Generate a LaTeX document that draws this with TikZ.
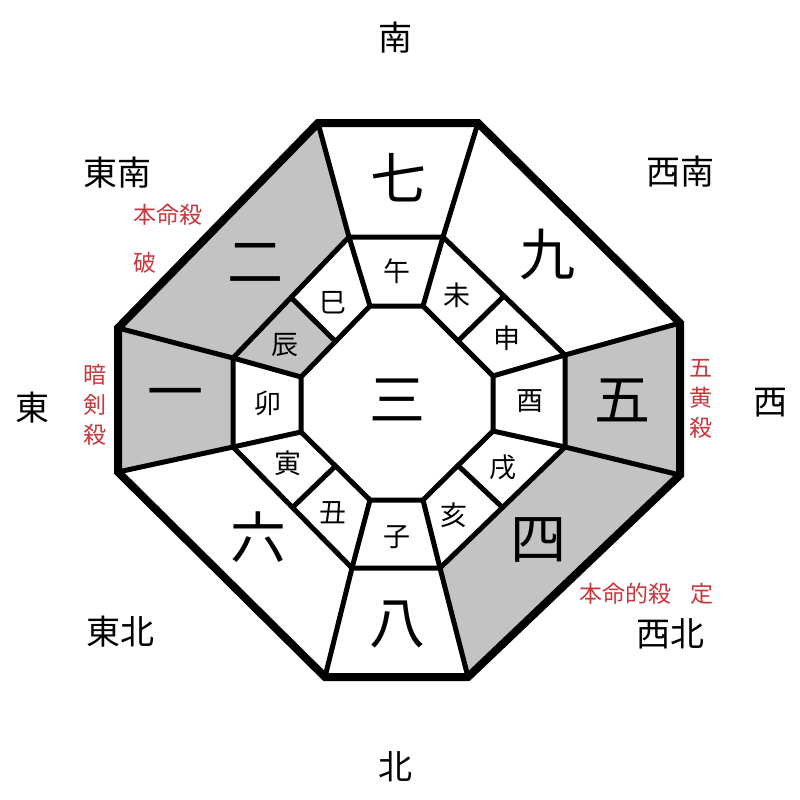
\documentclass[tikz,border=0pt]{standalone}
\usepackage{fontspec}
\setmainfont{Noto Sans CJK JP}
\usetikzlibrary{calc}
\definecolor{cellgray}{RGB}{195,195,195}
\definecolor{notered}{RGB}{200,55,60}
\tikzset{
  bignum/.style={font=\fontsize{56}{60}\selectfont, inner sep=0pt},
  branch/.style={font=\fontsize{27}{30}\selectfont, inner sep=0pt},
  dirlabel/.style={font=\fontsize{34}{36}\selectfont, inner sep=0pt},
  notelabel/.style={font=\fontsize{23}{30}\selectfont, text=notered, inner sep=0pt, align=center},
  outerline/.style={line width=8pt},
  innerline/.style={line width=5pt},
  shade/.style={fill=cellgray, draw=none}
}
\begin{document}
\begin{tikzpicture}[x=1pt,y=-1pt]
\useasboundingbox[fill=white] (0,0) rectangle (800,800);
% outer octagon
\coordinate (O1) at (318,123);
\coordinate (O2) at (478,123);
\coordinate (O3) at (680,323);
\coordinate (O4) at (680,475);
\coordinate (O5) at (468,677);
\coordinate (O6) at (325,677);
\coordinate (O7) at (118,472);
\coordinate (O8) at (118,328);
% middle octagon
\coordinate (M1) at (349,237);
\coordinate (M2) at (443,237);
\coordinate (M3) at (565,355);
\coordinate (M4) at (565,447);
\coordinate (M5) at (440,568);
\coordinate (M6) at (352,568);
\coordinate (M7) at (233,447);
\coordinate (M8) at (233,358);
% inner octagon
\coordinate (I1) at (370,306);
\coordinate (I2) at (423,306);
\coordinate (I3) at (493,376);
\coordinate (I4) at (493,431);
\coordinate (I5) at (423,500);
\coordinate (I6) at (370,500);
\coordinate (I7) at (301,432);
\coordinate (I8) at (301,377);
% divider midpoints
\coordinate (D1a) at ($(M2)!0.5!(M3)$);
\coordinate (D1b) at ($(I2)!0.5!(I3)$);
\coordinate (D2a) at ($(M4)!0.5!(M5)$);
\coordinate (D2b) at ($(I4)!0.5!(I5)$);
\coordinate (D3a) at ($(M6)!0.5!(M7)$);
\coordinate (D3b) at ($(I6)!0.5!(I7)$);
\coordinate (D4a) at ($(M8)!0.5!(M1)$);
\coordinate (D4b) at ($(I8)!0.5!(I1)$);
% gray cells
\fill[shade] (O8) -- (O1) -- (M1) -- (M8) -- cycle;
\fill[shade] (O7) -- (O8) -- (M8) -- (M7) -- cycle;
\fill[shade] (O3) -- (O4) -- (M4) -- (M3) -- cycle;
\fill[shade] (O4) -- (O5) -- (M5) -- (M4) -- cycle;
\fill[shade] (M8) -- (D4a) -- (D4b) -- (I8) -- cycle;
% lines
\draw[innerline] (M1) -- (M2) -- (M3) -- (M4) -- (M5) -- (M6) -- (M7) -- (M8) -- cycle;
\draw[innerline] (I1) -- (I2) -- (I3) -- (I4) -- (I5) -- (I6) -- (I7) -- (I8) -- cycle;
\foreach \i in {1,...,8} {
  \draw[innerline] (O\i) -- (M\i) -- (I\i);
}
\foreach \i in {1,...,4} {
  \draw[innerline] (D\i a) -- (D\i b);
}
\draw[outerline] (O1) -- (O2) -- (O3) -- (O4) -- (O5) -- (O6) -- (O7) -- (O8) -- cycle;
% big numbers
\node[bignum] (n7) at (398,178) {七};
\node[bignum] (n9) at (547,255) {九};
\node[bignum] (n5) at (622,400) {五};
\node[bignum] (n4) at (538,540) {四};
\node[bignum] (n8) at (397,625) {八};
\node[bignum] (n6) at (258,537) {六};
\node[bignum] (n1) at (175,400) {一};
\node[bignum] (n2) at (255,263) {二};
\node[bignum] (n3) at (397,400) {三};
% branches
\node[branch] (bwu) at (397,271) {午};
\node[branch] (bwei) at (457,295) {未};
\node[branch] (bshen) at (507,338) {申};
\node[branch] (byou) at (530,401) {酉};
\node[branch] (bxu) at (503,467) {戌};
\node[branch] (bhai) at (454,515) {亥};
\node[branch] (bzi) at (397,537) {子};
\node[branch] (bchou) at (333,513) {丑};
\node[branch] (byin) at (288,463) {寅};
\node[branch] (bmao) at (268,403) {卯};
\node[branch] (bchen) at (285,345) {辰};
\node[branch] (bsi) at (333,303) {巳};
% directions
\node[dirlabel] (dS) at (395,38) {南};
\node[dirlabel] (dSW) at (680,172) {西南};
\node[dirlabel] (dW) at (770,403) {西};
\node[dirlabel] (dNW) at (670,634) {西北};
\node[dirlabel] (dN) at (395,767) {北};
\node[dirlabel] (dNE) at (120,632) {東北};
\node[dirlabel] (dE) at (32,408) {東};
\node[dirlabel] (dSE) at (117,173) {東南};
% notes
\node[notelabel] (r1) at (168,215) {本命殺};
\node[notelabel] (r2) at (145,263) {破};
\node[notelabel] (r3) at (95,405) {暗\\剣\\殺};
\node[notelabel] (r4) at (701,399) {五\\黄\\殺};
\node[notelabel] (r5) at (625,594) {本命的殺};
\node[notelabel] (r6) at (702,594) {定};
\end{tikzpicture}
\end{document}
